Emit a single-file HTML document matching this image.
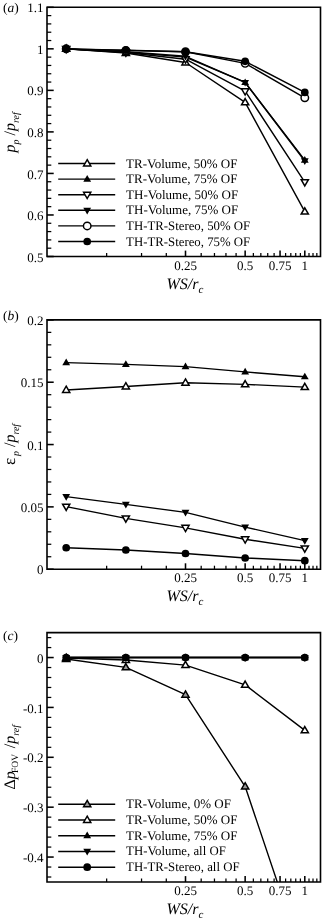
<!DOCTYPE html>
<html><head><meta charset="utf-8"><style>
html,body{margin:0;padding:0;background:#fff;}
body{width:322px;height:921px;overflow:hidden;}
svg{display:block;filter:blur(0.35px);}
text{font-family:"Liberation Serif",serif;text-rendering:geometricPrecision;}
</style></head><body>
<svg width="322" height="921" viewBox="0 0 322 921">
<rect width="322" height="921" fill="#fff"/>
<clipPath id="clipa"><rect x="47.0" y="7.3" width="273.5" height="249.2"/></clipPath>
<clipPath id="clipb"><rect x="47.0" y="319.9" width="273.5" height="249.30000000000007"/></clipPath>
<clipPath id="clipc"><rect x="47.0" y="632.6" width="273.5" height="249.39999999999998"/></clipPath>
<line x1="47.0" y1="248.19" x2="51.30" y2="248.19" stroke="#000" stroke-width="1.25"/>
<line x1="47.0" y1="239.89" x2="51.30" y2="239.89" stroke="#000" stroke-width="1.25"/>
<line x1="47.0" y1="231.58" x2="51.30" y2="231.58" stroke="#000" stroke-width="1.25"/>
<line x1="47.0" y1="223.27" x2="51.30" y2="223.27" stroke="#000" stroke-width="1.25"/>
<line x1="47.0" y1="206.66" x2="51.30" y2="206.66" stroke="#000" stroke-width="1.25"/>
<line x1="47.0" y1="198.35" x2="51.30" y2="198.35" stroke="#000" stroke-width="1.25"/>
<line x1="47.0" y1="190.05" x2="51.30" y2="190.05" stroke="#000" stroke-width="1.25"/>
<line x1="47.0" y1="181.74" x2="51.30" y2="181.74" stroke="#000" stroke-width="1.25"/>
<line x1="47.0" y1="165.13" x2="51.30" y2="165.13" stroke="#000" stroke-width="1.25"/>
<line x1="47.0" y1="156.82" x2="51.30" y2="156.82" stroke="#000" stroke-width="1.25"/>
<line x1="47.0" y1="148.51" x2="51.30" y2="148.51" stroke="#000" stroke-width="1.25"/>
<line x1="47.0" y1="140.21" x2="51.30" y2="140.21" stroke="#000" stroke-width="1.25"/>
<line x1="47.0" y1="123.59" x2="51.30" y2="123.59" stroke="#000" stroke-width="1.25"/>
<line x1="47.0" y1="115.29" x2="51.30" y2="115.29" stroke="#000" stroke-width="1.25"/>
<line x1="47.0" y1="106.98" x2="51.30" y2="106.98" stroke="#000" stroke-width="1.25"/>
<line x1="47.0" y1="98.67" x2="51.30" y2="98.67" stroke="#000" stroke-width="1.25"/>
<line x1="47.0" y1="82.06" x2="51.30" y2="82.06" stroke="#000" stroke-width="1.25"/>
<line x1="47.0" y1="73.75" x2="51.30" y2="73.75" stroke="#000" stroke-width="1.25"/>
<line x1="47.0" y1="65.45" x2="51.30" y2="65.45" stroke="#000" stroke-width="1.25"/>
<line x1="47.0" y1="57.14" x2="51.30" y2="57.14" stroke="#000" stroke-width="1.25"/>
<line x1="47.0" y1="40.53" x2="51.30" y2="40.53" stroke="#000" stroke-width="1.25"/>
<line x1="47.0" y1="32.22" x2="51.30" y2="32.22" stroke="#000" stroke-width="1.25"/>
<line x1="47.0" y1="23.91" x2="51.30" y2="23.91" stroke="#000" stroke-width="1.25"/>
<line x1="47.0" y1="15.61" x2="51.30" y2="15.61" stroke="#000" stroke-width="1.25"/>
<line x1="47.0" y1="256.50" x2="53.70" y2="256.50" stroke="#000" stroke-width="1.55"/>
<line x1="47.0" y1="214.97" x2="53.70" y2="214.97" stroke="#000" stroke-width="1.55"/>
<line x1="47.0" y1="173.43" x2="53.70" y2="173.43" stroke="#000" stroke-width="1.55"/>
<line x1="47.0" y1="131.90" x2="53.70" y2="131.90" stroke="#000" stroke-width="1.55"/>
<line x1="47.0" y1="90.37" x2="53.70" y2="90.37" stroke="#000" stroke-width="1.55"/>
<line x1="47.0" y1="48.83" x2="53.70" y2="48.83" stroke="#000" stroke-width="1.55"/>
<line x1="47.0" y1="7.30" x2="53.70" y2="7.30" stroke="#000" stroke-width="1.55"/>
<text x="43.5" y="261.60" text-anchor="end" font-family="Liberation Serif" font-size="13">0.5</text>
<text x="43.5" y="220.07" text-anchor="end" font-family="Liberation Serif" font-size="13">0.6</text>
<text x="43.5" y="178.53" text-anchor="end" font-family="Liberation Serif" font-size="13">0.7</text>
<text x="43.5" y="137.00" text-anchor="end" font-family="Liberation Serif" font-size="13">0.8</text>
<text x="43.5" y="95.47" text-anchor="end" font-family="Liberation Serif" font-size="13">0.9</text>
<text x="43.5" y="53.93" text-anchor="end" font-family="Liberation Serif" font-size="13">1</text>
<text x="43.5" y="12.40" text-anchor="end" font-family="Liberation Serif" font-size="13">1.1</text>
<line x1="106.65" y1="256.5" x2="106.65" y2="253.0" stroke="#000" stroke-width="1.25"/>
<line x1="141.54" y1="256.5" x2="141.54" y2="253.0" stroke="#000" stroke-width="1.25"/>
<line x1="166.30" y1="256.5" x2="166.30" y2="253.0" stroke="#000" stroke-width="1.25"/>
<line x1="201.19" y1="256.5" x2="201.19" y2="253.0" stroke="#000" stroke-width="1.25"/>
<line x1="214.46" y1="256.5" x2="214.46" y2="253.0" stroke="#000" stroke-width="1.25"/>
<line x1="225.95" y1="256.5" x2="225.95" y2="253.0" stroke="#000" stroke-width="1.25"/>
<line x1="236.09" y1="256.5" x2="236.09" y2="253.0" stroke="#000" stroke-width="1.25"/>
<line x1="253.36" y1="256.5" x2="253.36" y2="253.0" stroke="#000" stroke-width="1.25"/>
<line x1="260.84" y1="256.5" x2="260.84" y2="253.0" stroke="#000" stroke-width="1.25"/>
<line x1="267.73" y1="256.5" x2="267.73" y2="253.0" stroke="#000" stroke-width="1.25"/>
<line x1="274.11" y1="256.5" x2="274.11" y2="253.0" stroke="#000" stroke-width="1.25"/>
<line x1="285.60" y1="256.5" x2="285.60" y2="253.0" stroke="#000" stroke-width="1.25"/>
<line x1="290.82" y1="256.5" x2="290.82" y2="253.0" stroke="#000" stroke-width="1.25"/>
<line x1="295.74" y1="256.5" x2="295.74" y2="253.0" stroke="#000" stroke-width="1.25"/>
<line x1="300.39" y1="256.5" x2="300.39" y2="253.0" stroke="#000" stroke-width="1.25"/>
<line x1="309.00" y1="256.5" x2="309.00" y2="253.0" stroke="#000" stroke-width="1.25"/>
<line x1="313.01" y1="256.5" x2="313.01" y2="253.0" stroke="#000" stroke-width="1.25"/>
<line x1="316.83" y1="256.5" x2="316.83" y2="253.0" stroke="#000" stroke-width="1.25"/>
<line x1="185.50" y1="256.5" x2="185.50" y2="250.6" stroke="#000" stroke-width="1.55"/>
<text x="185.50" y="269.70" text-anchor="middle" font-family="Liberation Serif" font-size="13">0.25</text>
<line x1="245.15" y1="256.5" x2="245.15" y2="250.6" stroke="#000" stroke-width="1.55"/>
<text x="245.15" y="269.70" text-anchor="middle" font-family="Liberation Serif" font-size="13">0.5</text>
<line x1="280.05" y1="256.5" x2="280.05" y2="250.6" stroke="#000" stroke-width="1.55"/>
<text x="280.05" y="269.70" text-anchor="middle" font-family="Liberation Serif" font-size="13">0.75</text>
<line x1="304.80" y1="256.5" x2="304.80" y2="250.6" stroke="#000" stroke-width="1.55"/>
<text x="304.80" y="269.70" text-anchor="middle" font-family="Liberation Serif" font-size="13">1</text>
<text x="166.5" y="288.60" font-family="Liberation Serif" font-size="16" font-style="italic">WS/r<tspan font-size="11" dy="4">c</tspan></text>
<text x="3" y="12.3" font-family="Liberation Serif" font-size="13.5">(<tspan font-style="italic">a</tspan>)</text>
<text transform="translate(14.6,152.5) rotate(-90)" font-family="Liberation Serif" font-size="16" font-style="italic">p<tspan font-size="10" dy="4.5">p</tspan><tspan dy="-4.5" font-style="normal"> /</tspan><tspan>p</tspan><tspan font-size="10" dy="4.5">ref</tspan></text>
<path d="M66.20,48.83 L125.85,52.99 L185.50,62.54 L245.15,102.41 L304.80,211.64" fill="none" stroke="#000" stroke-width="1.4" stroke-linejoin="round"/>
<path d="M66.20,48.83 L125.85,52.16 L185.50,57.14 L245.15,82.48 L304.80,160.14" fill="none" stroke="#000" stroke-width="1.4" stroke-linejoin="round"/>
<path d="M66.20,48.83 L125.85,52.57 L185.50,59.22 L245.15,91.20 L304.80,182.16" fill="none" stroke="#000" stroke-width="1.4" stroke-linejoin="round"/>
<path d="M66.20,48.83 L125.85,51.74 L185.50,56.31 L245.15,82.48 L304.80,160.97" fill="none" stroke="#000" stroke-width="1.4" stroke-linejoin="round"/>
<path d="M66.20,48.83 L125.85,50.49 L185.50,51.74 L245.15,63.37 L304.80,97.84" fill="none" stroke="#000" stroke-width="1.4" stroke-linejoin="round"/>
<path d="M66.20,48.83 L125.85,50.08 L185.50,51.74 L245.15,61.29 L304.80,92.44" fill="none" stroke="#000" stroke-width="1.4" stroke-linejoin="round"/>
<path d="M66.20,45.03 L69.80,51.28 L62.60,51.28 Z" fill="#fff" stroke="#000" stroke-width="1.5"/>
<path d="M125.85,49.19 L129.45,55.44 L122.25,55.44 Z" fill="#fff" stroke="#000" stroke-width="1.5"/>
<path d="M185.50,58.74 L189.10,64.99 L181.90,64.99 Z" fill="#fff" stroke="#000" stroke-width="1.5"/>
<path d="M245.15,98.61 L248.75,104.86 L241.55,104.86 Z" fill="#fff" stroke="#000" stroke-width="1.5"/>
<path d="M304.80,207.84 L308.40,214.09 L301.20,214.09 Z" fill="#fff" stroke="#000" stroke-width="1.5"/>
<path d="M66.20,44.73 L70.10,51.43 L62.30,51.43 Z" fill="#000"/>
<path d="M125.85,48.06 L129.75,54.76 L121.95,54.76 Z" fill="#000"/>
<path d="M185.50,53.04 L189.40,59.74 L181.60,59.74 Z" fill="#000"/>
<path d="M245.15,78.38 L249.05,85.08 L241.25,85.08 Z" fill="#000"/>
<path d="M304.80,156.04 L308.70,162.74 L300.90,162.74 Z" fill="#000"/>
<path d="M66.20,52.63 L69.80,46.38 L62.60,46.38 Z" fill="#fff" stroke="#000" stroke-width="1.5"/>
<path d="M125.85,56.37 L129.45,50.12 L122.25,50.12 Z" fill="#fff" stroke="#000" stroke-width="1.5"/>
<path d="M185.50,63.02 L189.10,56.77 L181.90,56.77 Z" fill="#fff" stroke="#000" stroke-width="1.5"/>
<path d="M245.15,95.00 L248.75,88.75 L241.55,88.75 Z" fill="#fff" stroke="#000" stroke-width="1.5"/>
<path d="M304.80,185.96 L308.40,179.71 L301.20,179.71 Z" fill="#fff" stroke="#000" stroke-width="1.5"/>
<path d="M66.20,52.93 L70.10,46.23 L62.30,46.23 Z" fill="#000"/>
<path d="M125.85,55.84 L129.75,49.14 L121.95,49.14 Z" fill="#000"/>
<path d="M185.50,60.41 L189.40,53.71 L181.60,53.71 Z" fill="#000"/>
<path d="M245.15,86.58 L249.05,79.88 L241.25,79.88 Z" fill="#000"/>
<path d="M304.80,165.07 L308.70,158.37 L300.90,158.37 Z" fill="#000"/>
<circle cx="66.20" cy="48.83" r="3.75" fill="#fff" stroke="#000" stroke-width="1.45"/>
<circle cx="125.85" cy="50.49" r="3.75" fill="#fff" stroke="#000" stroke-width="1.45"/>
<circle cx="185.50" cy="51.74" r="3.75" fill="#fff" stroke="#000" stroke-width="1.45"/>
<circle cx="245.15" cy="63.37" r="3.75" fill="#fff" stroke="#000" stroke-width="1.45"/>
<circle cx="304.80" cy="97.84" r="3.75" fill="#fff" stroke="#000" stroke-width="1.45"/>
<circle cx="66.20" cy="48.83" r="3.85" fill="#000"/>
<circle cx="125.85" cy="50.08" r="3.85" fill="#000"/>
<circle cx="185.50" cy="51.74" r="3.85" fill="#000"/>
<circle cx="245.15" cy="61.29" r="3.85" fill="#000"/>
<circle cx="304.80" cy="92.44" r="3.85" fill="#000"/>
<line x1="58.2" y1="163.50" x2="115.2" y2="163.50" stroke="#000" stroke-width="1.4"/>
<path d="M87.20,159.70 L90.80,165.95 L83.60,165.95 Z" fill="#fff" stroke="#000" stroke-width="1.5"/>
<text x="126.1" y="167.50" font-family="Liberation Serif" font-size="13">TR-Volume, 50% OF</text>
<line x1="58.2" y1="179.10" x2="115.2" y2="179.10" stroke="#000" stroke-width="1.4"/>
<path d="M87.20,175.00 L91.10,181.70 L83.30,181.70 Z" fill="#000"/>
<text x="126.1" y="183.10" font-family="Liberation Serif" font-size="13">TR-Volume, 75% OF</text>
<line x1="58.2" y1="194.70" x2="115.2" y2="194.70" stroke="#000" stroke-width="1.4"/>
<path d="M87.20,198.50 L90.80,192.25 L83.60,192.25 Z" fill="#fff" stroke="#000" stroke-width="1.5"/>
<text x="126.1" y="198.70" font-family="Liberation Serif" font-size="13">TH-Volume, 50% OF</text>
<line x1="58.2" y1="210.30" x2="115.2" y2="210.30" stroke="#000" stroke-width="1.4"/>
<path d="M87.20,214.40 L91.10,207.70 L83.30,207.70 Z" fill="#000"/>
<text x="126.1" y="214.30" font-family="Liberation Serif" font-size="13">TH-Volume, 75% OF</text>
<line x1="58.2" y1="225.90" x2="115.2" y2="225.90" stroke="#000" stroke-width="1.4"/>
<circle cx="87.20" cy="225.90" r="3.75" fill="#fff" stroke="#000" stroke-width="1.45"/>
<text x="126.1" y="229.90" font-family="Liberation Serif" font-size="13" textLength="124.1" lengthAdjust="spacingAndGlyphs">TH-TR-Stereo, 50% OF</text>
<line x1="58.2" y1="241.50" x2="115.2" y2="241.50" stroke="#000" stroke-width="1.4"/>
<circle cx="87.20" cy="241.50" r="3.85" fill="#000"/>
<text x="126.1" y="245.50" font-family="Liberation Serif" font-size="13" textLength="124.1" lengthAdjust="spacingAndGlyphs">TH-TR-Stereo, 75% OF</text>
<path d="M47.0,7.3 H320.5 V256.5 H47.0 Z" fill="none" stroke="#000" stroke-width="1.6"/>
<line x1="47.0" y1="556.74" x2="51.30" y2="556.74" stroke="#000" stroke-width="1.25"/>
<line x1="47.0" y1="544.27" x2="51.30" y2="544.27" stroke="#000" stroke-width="1.25"/>
<line x1="47.0" y1="531.81" x2="51.30" y2="531.81" stroke="#000" stroke-width="1.25"/>
<line x1="47.0" y1="519.34" x2="51.30" y2="519.34" stroke="#000" stroke-width="1.25"/>
<line x1="47.0" y1="494.41" x2="51.30" y2="494.41" stroke="#000" stroke-width="1.25"/>
<line x1="47.0" y1="481.95" x2="51.30" y2="481.95" stroke="#000" stroke-width="1.25"/>
<line x1="47.0" y1="469.48" x2="51.30" y2="469.48" stroke="#000" stroke-width="1.25"/>
<line x1="47.0" y1="457.02" x2="51.30" y2="457.02" stroke="#000" stroke-width="1.25"/>
<line x1="47.0" y1="432.09" x2="51.30" y2="432.09" stroke="#000" stroke-width="1.25"/>
<line x1="47.0" y1="419.62" x2="51.30" y2="419.62" stroke="#000" stroke-width="1.25"/>
<line x1="47.0" y1="407.16" x2="51.30" y2="407.16" stroke="#000" stroke-width="1.25"/>
<line x1="47.0" y1="394.69" x2="51.30" y2="394.69" stroke="#000" stroke-width="1.25"/>
<line x1="47.0" y1="369.76" x2="51.30" y2="369.76" stroke="#000" stroke-width="1.25"/>
<line x1="47.0" y1="357.29" x2="51.30" y2="357.29" stroke="#000" stroke-width="1.25"/>
<line x1="47.0" y1="344.83" x2="51.30" y2="344.83" stroke="#000" stroke-width="1.25"/>
<line x1="47.0" y1="332.37" x2="51.30" y2="332.37" stroke="#000" stroke-width="1.25"/>
<line x1="47.0" y1="569.20" x2="53.70" y2="569.20" stroke="#000" stroke-width="1.55"/>
<line x1="47.0" y1="506.88" x2="53.70" y2="506.88" stroke="#000" stroke-width="1.55"/>
<line x1="47.0" y1="444.55" x2="53.70" y2="444.55" stroke="#000" stroke-width="1.55"/>
<line x1="47.0" y1="382.22" x2="53.70" y2="382.22" stroke="#000" stroke-width="1.55"/>
<line x1="47.0" y1="319.90" x2="53.70" y2="319.90" stroke="#000" stroke-width="1.55"/>
<text x="43.5" y="574.30" text-anchor="end" font-family="Liberation Serif" font-size="13">0</text>
<text x="43.5" y="511.98" text-anchor="end" font-family="Liberation Serif" font-size="13">0.05</text>
<text x="43.5" y="449.65" text-anchor="end" font-family="Liberation Serif" font-size="13">0.1</text>
<text x="43.5" y="387.33" text-anchor="end" font-family="Liberation Serif" font-size="13">0.15</text>
<text x="43.5" y="325.00" text-anchor="end" font-family="Liberation Serif" font-size="13">0.2</text>
<line x1="106.65" y1="569.2" x2="106.65" y2="565.7" stroke="#000" stroke-width="1.25"/>
<line x1="141.54" y1="569.2" x2="141.54" y2="565.7" stroke="#000" stroke-width="1.25"/>
<line x1="166.30" y1="569.2" x2="166.30" y2="565.7" stroke="#000" stroke-width="1.25"/>
<line x1="201.19" y1="569.2" x2="201.19" y2="565.7" stroke="#000" stroke-width="1.25"/>
<line x1="214.46" y1="569.2" x2="214.46" y2="565.7" stroke="#000" stroke-width="1.25"/>
<line x1="225.95" y1="569.2" x2="225.95" y2="565.7" stroke="#000" stroke-width="1.25"/>
<line x1="236.09" y1="569.2" x2="236.09" y2="565.7" stroke="#000" stroke-width="1.25"/>
<line x1="253.36" y1="569.2" x2="253.36" y2="565.7" stroke="#000" stroke-width="1.25"/>
<line x1="260.84" y1="569.2" x2="260.84" y2="565.7" stroke="#000" stroke-width="1.25"/>
<line x1="267.73" y1="569.2" x2="267.73" y2="565.7" stroke="#000" stroke-width="1.25"/>
<line x1="274.11" y1="569.2" x2="274.11" y2="565.7" stroke="#000" stroke-width="1.25"/>
<line x1="285.60" y1="569.2" x2="285.60" y2="565.7" stroke="#000" stroke-width="1.25"/>
<line x1="290.82" y1="569.2" x2="290.82" y2="565.7" stroke="#000" stroke-width="1.25"/>
<line x1="295.74" y1="569.2" x2="295.74" y2="565.7" stroke="#000" stroke-width="1.25"/>
<line x1="300.39" y1="569.2" x2="300.39" y2="565.7" stroke="#000" stroke-width="1.25"/>
<line x1="309.00" y1="569.2" x2="309.00" y2="565.7" stroke="#000" stroke-width="1.25"/>
<line x1="313.01" y1="569.2" x2="313.01" y2="565.7" stroke="#000" stroke-width="1.25"/>
<line x1="316.83" y1="569.2" x2="316.83" y2="565.7" stroke="#000" stroke-width="1.25"/>
<line x1="185.50" y1="569.2" x2="185.50" y2="563.3000000000001" stroke="#000" stroke-width="1.55"/>
<text x="185.50" y="582.40" text-anchor="middle" font-family="Liberation Serif" font-size="13">0.25</text>
<line x1="245.15" y1="569.2" x2="245.15" y2="563.3000000000001" stroke="#000" stroke-width="1.55"/>
<text x="245.15" y="582.40" text-anchor="middle" font-family="Liberation Serif" font-size="13">0.5</text>
<line x1="280.05" y1="569.2" x2="280.05" y2="563.3000000000001" stroke="#000" stroke-width="1.55"/>
<text x="280.05" y="582.40" text-anchor="middle" font-family="Liberation Serif" font-size="13">0.75</text>
<line x1="304.80" y1="569.2" x2="304.80" y2="563.3000000000001" stroke="#000" stroke-width="1.55"/>
<text x="304.80" y="582.40" text-anchor="middle" font-family="Liberation Serif" font-size="13">1</text>
<text x="166.5" y="601.30" font-family="Liberation Serif" font-size="16" font-style="italic">WS/r<tspan font-size="11" dy="4">c</tspan></text>
<text x="3" y="319.6" font-family="Liberation Serif" font-size="13.5">(<tspan font-style="italic">b</tspan>)</text>
<text transform="translate(14.6,465) rotate(-90)" font-family="Liberation Serif" font-size="16" font-style="italic"><tspan font-style="normal" font-size="17">ε</tspan><tspan font-size="10" dy="4.5" dx="1.8">p</tspan><tspan dy="-4.5" font-style="normal"> /</tspan><tspan>p</tspan><tspan font-size="10" dy="4.5">ref</tspan></text>
<path d="M66.20,389.95 L125.85,386.46 L185.50,382.72 L245.15,384.34 L304.80,387.09" fill="none" stroke="#000" stroke-width="1.4" stroke-linejoin="round"/>
<path d="M66.20,362.65 L125.85,364.40 L185.50,366.64 L245.15,371.88 L304.80,376.74" fill="none" stroke="#000" stroke-width="1.4" stroke-linejoin="round"/>
<path d="M66.20,506.63 L125.85,518.34 L185.50,527.82 L245.15,539.28 L304.80,548.38" fill="none" stroke="#000" stroke-width="1.4" stroke-linejoin="round"/>
<path d="M66.20,496.65 L125.85,504.38 L185.50,512.36 L245.15,527.07 L304.80,540.66" fill="none" stroke="#000" stroke-width="1.4" stroke-linejoin="round"/>
<path d="M66.20,547.76 L125.85,550.00 L185.50,553.49 L245.15,557.98 L304.80,560.72" fill="none" stroke="#000" stroke-width="1.4" stroke-linejoin="round"/>
<path d="M66.20,386.15 L69.80,392.40 L62.60,392.40 Z" fill="#fff" stroke="#000" stroke-width="1.5"/>
<path d="M125.85,382.66 L129.45,388.91 L122.25,388.91 Z" fill="#fff" stroke="#000" stroke-width="1.5"/>
<path d="M185.50,378.92 L189.10,385.17 L181.90,385.17 Z" fill="#fff" stroke="#000" stroke-width="1.5"/>
<path d="M245.15,380.54 L248.75,386.79 L241.55,386.79 Z" fill="#fff" stroke="#000" stroke-width="1.5"/>
<path d="M304.80,383.29 L308.40,389.54 L301.20,389.54 Z" fill="#fff" stroke="#000" stroke-width="1.5"/>
<path d="M66.20,358.55 L70.10,365.25 L62.30,365.25 Z" fill="#000"/>
<path d="M125.85,360.30 L129.75,367.00 L121.95,367.00 Z" fill="#000"/>
<path d="M185.50,362.54 L189.40,369.24 L181.60,369.24 Z" fill="#000"/>
<path d="M245.15,367.78 L249.05,374.48 L241.25,374.48 Z" fill="#000"/>
<path d="M304.80,372.64 L308.70,379.34 L300.90,379.34 Z" fill="#000"/>
<path d="M66.20,510.43 L69.80,504.18 L62.60,504.18 Z" fill="#fff" stroke="#000" stroke-width="1.5"/>
<path d="M125.85,522.14 L129.45,515.89 L122.25,515.89 Z" fill="#fff" stroke="#000" stroke-width="1.5"/>
<path d="M185.50,531.62 L189.10,525.37 L181.90,525.37 Z" fill="#fff" stroke="#000" stroke-width="1.5"/>
<path d="M245.15,543.08 L248.75,536.83 L241.55,536.83 Z" fill="#fff" stroke="#000" stroke-width="1.5"/>
<path d="M304.80,552.18 L308.40,545.93 L301.20,545.93 Z" fill="#fff" stroke="#000" stroke-width="1.5"/>
<path d="M66.20,500.75 L70.10,494.05 L62.30,494.05 Z" fill="#000"/>
<path d="M125.85,508.48 L129.75,501.78 L121.95,501.78 Z" fill="#000"/>
<path d="M185.50,516.46 L189.40,509.76 L181.60,509.76 Z" fill="#000"/>
<path d="M245.15,531.17 L249.05,524.47 L241.25,524.47 Z" fill="#000"/>
<path d="M304.80,544.76 L308.70,538.06 L300.90,538.06 Z" fill="#000"/>
<circle cx="66.20" cy="547.76" r="3.85" fill="#000"/>
<circle cx="125.85" cy="550.00" r="3.85" fill="#000"/>
<circle cx="185.50" cy="553.49" r="3.85" fill="#000"/>
<circle cx="245.15" cy="557.98" r="3.85" fill="#000"/>
<circle cx="304.80" cy="560.72" r="3.85" fill="#000"/>
<path d="M47.0,319.9 H320.5 V569.2 H47.0 Z" fill="none" stroke="#000" stroke-width="1.6"/>
<line x1="47.0" y1="877.01" x2="51.30" y2="877.01" stroke="#000" stroke-width="1.25"/>
<line x1="47.0" y1="867.04" x2="51.30" y2="867.04" stroke="#000" stroke-width="1.25"/>
<line x1="47.0" y1="847.08" x2="51.30" y2="847.08" stroke="#000" stroke-width="1.25"/>
<line x1="47.0" y1="837.11" x2="51.30" y2="837.11" stroke="#000" stroke-width="1.25"/>
<line x1="47.0" y1="827.13" x2="51.30" y2="827.13" stroke="#000" stroke-width="1.25"/>
<line x1="47.0" y1="817.16" x2="51.30" y2="817.16" stroke="#000" stroke-width="1.25"/>
<line x1="47.0" y1="797.20" x2="51.30" y2="797.20" stroke="#000" stroke-width="1.25"/>
<line x1="47.0" y1="787.23" x2="51.30" y2="787.23" stroke="#000" stroke-width="1.25"/>
<line x1="47.0" y1="777.25" x2="51.30" y2="777.25" stroke="#000" stroke-width="1.25"/>
<line x1="47.0" y1="767.28" x2="51.30" y2="767.28" stroke="#000" stroke-width="1.25"/>
<line x1="47.0" y1="747.32" x2="51.30" y2="747.32" stroke="#000" stroke-width="1.25"/>
<line x1="47.0" y1="737.35" x2="51.30" y2="737.35" stroke="#000" stroke-width="1.25"/>
<line x1="47.0" y1="727.37" x2="51.30" y2="727.37" stroke="#000" stroke-width="1.25"/>
<line x1="47.0" y1="717.40" x2="51.30" y2="717.40" stroke="#000" stroke-width="1.25"/>
<line x1="47.0" y1="697.44" x2="51.30" y2="697.44" stroke="#000" stroke-width="1.25"/>
<line x1="47.0" y1="687.47" x2="51.30" y2="687.47" stroke="#000" stroke-width="1.25"/>
<line x1="47.0" y1="677.49" x2="51.30" y2="677.49" stroke="#000" stroke-width="1.25"/>
<line x1="47.0" y1="667.52" x2="51.30" y2="667.52" stroke="#000" stroke-width="1.25"/>
<line x1="47.0" y1="647.56" x2="51.30" y2="647.56" stroke="#000" stroke-width="1.25"/>
<line x1="47.0" y1="637.59" x2="51.30" y2="637.59" stroke="#000" stroke-width="1.25"/>
<line x1="47.0" y1="857.06" x2="53.70" y2="857.06" stroke="#000" stroke-width="1.55"/>
<line x1="47.0" y1="807.18" x2="53.70" y2="807.18" stroke="#000" stroke-width="1.55"/>
<line x1="47.0" y1="757.30" x2="53.70" y2="757.30" stroke="#000" stroke-width="1.55"/>
<line x1="47.0" y1="707.42" x2="53.70" y2="707.42" stroke="#000" stroke-width="1.55"/>
<line x1="47.0" y1="657.54" x2="53.70" y2="657.54" stroke="#000" stroke-width="1.55"/>
<text x="43.5" y="862.16" text-anchor="end" font-family="Liberation Serif" font-size="13">-0.4</text>
<text x="43.5" y="812.28" text-anchor="end" font-family="Liberation Serif" font-size="13">-0.3</text>
<text x="43.5" y="762.40" text-anchor="end" font-family="Liberation Serif" font-size="13">-0.2</text>
<text x="43.5" y="712.52" text-anchor="end" font-family="Liberation Serif" font-size="13">-0.1</text>
<text x="43.5" y="662.64" text-anchor="end" font-family="Liberation Serif" font-size="13">0</text>
<line x1="106.65" y1="882.0" x2="106.65" y2="878.5" stroke="#000" stroke-width="1.25"/>
<line x1="141.54" y1="882.0" x2="141.54" y2="878.5" stroke="#000" stroke-width="1.25"/>
<line x1="166.30" y1="882.0" x2="166.30" y2="878.5" stroke="#000" stroke-width="1.25"/>
<line x1="201.19" y1="882.0" x2="201.19" y2="878.5" stroke="#000" stroke-width="1.25"/>
<line x1="214.46" y1="882.0" x2="214.46" y2="878.5" stroke="#000" stroke-width="1.25"/>
<line x1="225.95" y1="882.0" x2="225.95" y2="878.5" stroke="#000" stroke-width="1.25"/>
<line x1="236.09" y1="882.0" x2="236.09" y2="878.5" stroke="#000" stroke-width="1.25"/>
<line x1="253.36" y1="882.0" x2="253.36" y2="878.5" stroke="#000" stroke-width="1.25"/>
<line x1="260.84" y1="882.0" x2="260.84" y2="878.5" stroke="#000" stroke-width="1.25"/>
<line x1="267.73" y1="882.0" x2="267.73" y2="878.5" stroke="#000" stroke-width="1.25"/>
<line x1="274.11" y1="882.0" x2="274.11" y2="878.5" stroke="#000" stroke-width="1.25"/>
<line x1="285.60" y1="882.0" x2="285.60" y2="878.5" stroke="#000" stroke-width="1.25"/>
<line x1="290.82" y1="882.0" x2="290.82" y2="878.5" stroke="#000" stroke-width="1.25"/>
<line x1="295.74" y1="882.0" x2="295.74" y2="878.5" stroke="#000" stroke-width="1.25"/>
<line x1="300.39" y1="882.0" x2="300.39" y2="878.5" stroke="#000" stroke-width="1.25"/>
<line x1="309.00" y1="882.0" x2="309.00" y2="878.5" stroke="#000" stroke-width="1.25"/>
<line x1="313.01" y1="882.0" x2="313.01" y2="878.5" stroke="#000" stroke-width="1.25"/>
<line x1="316.83" y1="882.0" x2="316.83" y2="878.5" stroke="#000" stroke-width="1.25"/>
<line x1="185.50" y1="882.0" x2="185.50" y2="876.1" stroke="#000" stroke-width="1.55"/>
<text x="185.50" y="895.20" text-anchor="middle" font-family="Liberation Serif" font-size="13">0.25</text>
<line x1="245.15" y1="882.0" x2="245.15" y2="876.1" stroke="#000" stroke-width="1.55"/>
<text x="245.15" y="895.20" text-anchor="middle" font-family="Liberation Serif" font-size="13">0.5</text>
<line x1="280.05" y1="882.0" x2="280.05" y2="876.1" stroke="#000" stroke-width="1.55"/>
<text x="280.05" y="895.20" text-anchor="middle" font-family="Liberation Serif" font-size="13">0.75</text>
<line x1="304.80" y1="882.0" x2="304.80" y2="876.1" stroke="#000" stroke-width="1.55"/>
<text x="304.80" y="895.20" text-anchor="middle" font-family="Liberation Serif" font-size="13">1</text>
<text x="166.5" y="914.10" font-family="Liberation Serif" font-size="16" font-style="italic">WS/r<tspan font-size="11" dy="4">c</tspan></text>
<text x="3" y="639.6" font-family="Liberation Serif" font-size="13.5">(<tspan font-style="italic">c</tspan>)</text>
<text transform="translate(14.6,789.5) rotate(-90)" font-family="Liberation Serif" font-size="16" font-style="italic"><tspan font-style="normal">Δ</tspan>p<tspan font-size="9.5" dy="3.7" dx="-1.8" font-style="normal">FOV</tspan><tspan dy="-3.7" dx="1.8" font-style="normal"> /</tspan><tspan>p</tspan><tspan font-size="10" dy="4.5">ref</tspan></text>
<path d="M66.20,659.04 L125.85,667.32 L185.50,694.70 L245.15,786.53 L304.80,963.80" fill="none" stroke="#000" stroke-width="1.4" stroke-linejoin="round" clip-path="url(#clipc)"/>
<path d="M66.20,658.04 L125.85,660.03 L185.50,665.17 L245.15,684.82 L304.80,730.36" fill="none" stroke="#000" stroke-width="1.4" stroke-linejoin="round" clip-path="url(#clipc)"/>
<path d="M66.20,657.54 L125.85,657.54 L185.50,657.54 L245.15,657.54 L304.80,657.54" fill="none" stroke="#000" stroke-width="1.4" stroke-linejoin="round" clip-path="url(#clipc)"/>
<path d="M66.20,657.54 L125.85,657.54 L185.50,657.54 L245.15,657.54 L304.80,657.54" fill="none" stroke="#000" stroke-width="1.4" stroke-linejoin="round" clip-path="url(#clipc)"/>
<path d="M66.20,657.54 L125.85,657.54 L185.50,657.54 L245.15,657.54 L304.80,657.54" fill="none" stroke="#000" stroke-width="1.4" stroke-linejoin="round" clip-path="url(#clipc)"/>
<path d="M66.20,655.24 L69.80,661.49 L62.60,661.49 Z" fill="#999" stroke="#000" stroke-width="1.5"/>
<path d="M125.85,663.52 L129.45,669.77 L122.25,669.77 Z" fill="#999" stroke="#000" stroke-width="1.5"/>
<path d="M185.50,690.90 L189.10,697.15 L181.90,697.15 Z" fill="#999" stroke="#000" stroke-width="1.5"/>
<path d="M245.15,782.73 L248.75,788.98 L241.55,788.98 Z" fill="#999" stroke="#000" stroke-width="1.5"/>
<path d="M66.20,654.24 L69.80,660.49 L62.60,660.49 Z" fill="#fff" stroke="#000" stroke-width="1.5"/>
<path d="M125.85,656.23 L129.45,662.48 L122.25,662.48 Z" fill="#fff" stroke="#000" stroke-width="1.5"/>
<path d="M185.50,661.37 L189.10,667.62 L181.90,667.62 Z" fill="#fff" stroke="#000" stroke-width="1.5"/>
<path d="M245.15,681.02 L248.75,687.27 L241.55,687.27 Z" fill="#fff" stroke="#000" stroke-width="1.5"/>
<path d="M304.80,726.56 L308.40,732.81 L301.20,732.81 Z" fill="#fff" stroke="#000" stroke-width="1.5"/>
<path d="M66.20,653.44 L70.10,660.14 L62.30,660.14 Z" fill="#000"/>
<path d="M125.85,653.44 L129.75,660.14 L121.95,660.14 Z" fill="#000"/>
<path d="M185.50,653.44 L189.40,660.14 L181.60,660.14 Z" fill="#000"/>
<path d="M245.15,653.44 L249.05,660.14 L241.25,660.14 Z" fill="#000"/>
<path d="M304.80,653.44 L308.70,660.14 L300.90,660.14 Z" fill="#000"/>
<path d="M66.20,661.64 L70.10,654.94 L62.30,654.94 Z" fill="#000"/>
<path d="M125.85,661.64 L129.75,654.94 L121.95,654.94 Z" fill="#000"/>
<path d="M185.50,661.64 L189.40,654.94 L181.60,654.94 Z" fill="#000"/>
<path d="M245.15,661.64 L249.05,654.94 L241.25,654.94 Z" fill="#000"/>
<path d="M304.80,661.64 L308.70,654.94 L300.90,654.94 Z" fill="#000"/>
<circle cx="66.20" cy="657.54" r="3.85" fill="#000"/>
<circle cx="125.85" cy="657.54" r="3.85" fill="#000"/>
<circle cx="185.50" cy="657.54" r="3.85" fill="#000"/>
<circle cx="245.15" cy="657.54" r="3.85" fill="#000"/>
<circle cx="304.80" cy="657.54" r="3.85" fill="#000"/>
<line x1="58.2" y1="804.20" x2="115.2" y2="804.20" stroke="#000" stroke-width="1.4"/>
<path d="M87.20,800.40 L90.80,806.65 L83.60,806.65 Z" fill="#999" stroke="#000" stroke-width="1.5"/>
<text x="126.1" y="808.20" font-family="Liberation Serif" font-size="13">TR-Volume, 0% OF</text>
<line x1="58.2" y1="819.95" x2="115.2" y2="819.95" stroke="#000" stroke-width="1.4"/>
<path d="M87.20,816.15 L90.80,822.40 L83.60,822.40 Z" fill="#fff" stroke="#000" stroke-width="1.5"/>
<text x="126.1" y="823.95" font-family="Liberation Serif" font-size="13">TR-Volume, 50% OF</text>
<line x1="58.2" y1="835.70" x2="115.2" y2="835.70" stroke="#000" stroke-width="1.4"/>
<path d="M87.20,831.60 L91.10,838.30 L83.30,838.30 Z" fill="#000"/>
<text x="126.1" y="839.70" font-family="Liberation Serif" font-size="13">TR-Volume, 75% OF</text>
<line x1="58.2" y1="851.45" x2="115.2" y2="851.45" stroke="#000" stroke-width="1.4"/>
<path d="M87.20,855.55 L91.10,848.85 L83.30,848.85 Z" fill="#000"/>
<text x="126.1" y="855.45" font-family="Liberation Serif" font-size="13" textLength="99.7" lengthAdjust="spacingAndGlyphs">TH-Volume, all OF</text>
<line x1="58.2" y1="867.20" x2="115.2" y2="867.20" stroke="#000" stroke-width="1.4"/>
<circle cx="87.20" cy="867.20" r="3.85" fill="#000"/>
<text x="126.1" y="871.20" font-family="Liberation Serif" font-size="13" textLength="113.4" lengthAdjust="spacingAndGlyphs">TH-TR-Stereo, all OF</text>
<path d="M47.0,632.6 H320.5 V882.0 H47.0 Z" fill="none" stroke="#000" stroke-width="1.6"/>
</svg>
</body></html>
